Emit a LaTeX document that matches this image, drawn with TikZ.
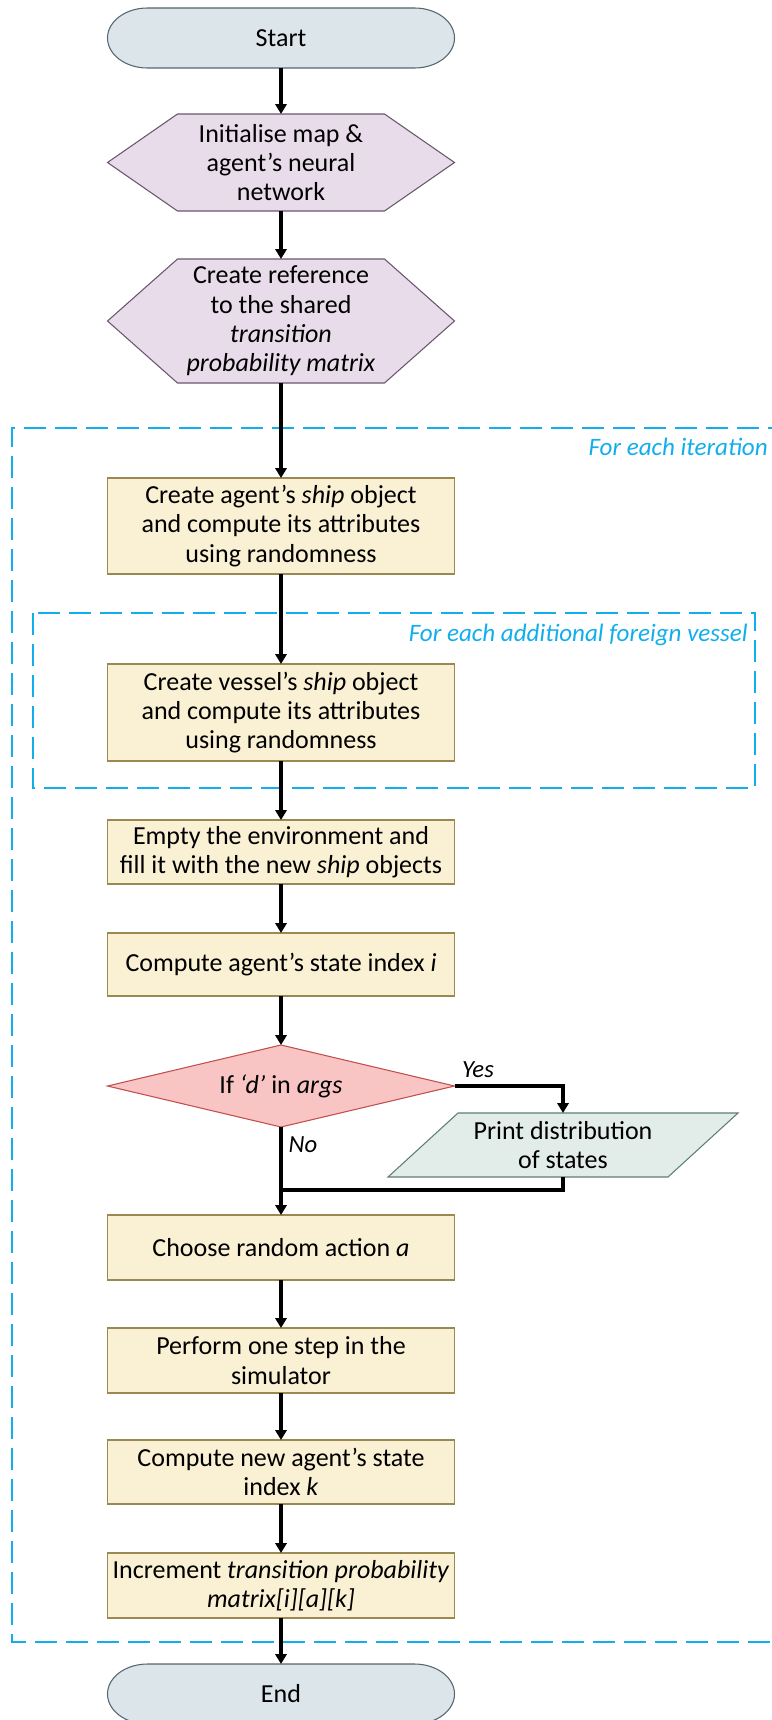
\documentclass[tikz,border=0pt]{standalone}
\usepackage{xcolor}
\usepackage{fontspec}
\setmainfont{Carlito}
\usepackage{tikz}
\usetikzlibrary{positioning,arrows.meta,shapes.geometric}

\definecolor{termfill}{HTML}{DCE5EA}
\definecolor{termline}{HTML}{56656F}
\definecolor{prepfill}{HTML}{E9DCEA}
\definecolor{prepline}{HTML}{6B566F}
\definecolor{procfill}{HTML}{FAF0D4}
\definecolor{procline}{HTML}{9A8A52}
\definecolor{decfill}{HTML}{F8C5C4}
\definecolor{decline}{HTML}{C0504D}
\definecolor{iofill}{HTML}{E2EDE9}
\definecolor{ioline}{HTML}{5E7E73}
\definecolor{loopblue}{HTML}{12AEEB}

\pgfdeclarelayer{bg}
\pgfsetlayers{bg,main}

\tikzset{
    base/.style={outer sep=0pt, inner sep=0pt, align=center, minimum width=260.25pt,
        font=\fontsize{19.5}{22}\selectfont},
    termbox/.style={base, minimum height=45pt},
    prepbox/.style={base},
    procbox/.style={base, draw=procline, fill=procfill, line width=0.8pt},
    decbox/.style={base, diamond, aspect=4.2, minimum height=61.5pt, draw=decline, fill=decfill, line width=0.8pt},
    iobox/.style={base, minimum width=262.5pt, minimum height=48pt},
    termshape/.style={draw=termline, fill=termfill, line width=0.8pt},
    prepshape/.style={draw=prepline, fill=prepfill, line width=0.8pt},
    ioshape/.style={draw=ioline, fill=iofill, line width=0.8pt},
    flow/.style={line width=2.6pt, -{Triangle[width=8.5pt,length=7.5pt]}},
    link/.style={line width=2.6pt},
    loopbox/.style={draw=loopblue, line width=2pt, dash pattern=on 16.5pt off 6.75pt},
    looplabel/.style={text=loopblue, anchor=east, inner sep=0pt, font=\itshape\fontsize{18.8}{22}\selectfont},
    branch/.style={inner sep=0pt, font=\itshape\fontsize{18.5}{22}\selectfont}
}

\begin{document}
\begin{tikzpicture}[x=0.75pt,y=-0.75pt]
    \useasboundingbox (0,0) rectangle (771,1720);

    \draw[loopbox] (790,428) -- (12,428) -- (12,1642) -- (790,1642);
    \draw[loopbox] (33,613) rectangle (755,788);
    \node[looplabel] (iterlabel) at (768,447) {For each iteration};
    \node[looplabel] (vessellabel) at (748,635) {For each additional foreign vessel};

    \node[termbox] (start) at (281,38) {Start};
    \node[prepbox, minimum height=72.75pt] (init) at (281,162.5) {Initialise map \&\\agent’s neural\\network};
    \node[prepbox, minimum height=93pt] (ref) at (281,321) {Create reference\\to the shared\\\textit{transition}\\\textit{probability matrix}};
    \node[procbox, minimum height=72pt] (agentship) at (281,526) {Create agent’s \textit{ship} object\\and compute its attributes\\using randomness};
    \node[procbox, minimum height=72.75pt] (vesselship) at (281,712.5) {Create vessel’s \textit{ship} object\\and compute its attributes\\using randomness};
    \node[procbox, minimum height=48pt] (envfill) at (281,852) {Empty the environment and\\fill it with the new \textit{ship} objects};
    \node[procbox, minimum height=47.25pt] (stateidx) at (281,964.5) {Compute agent’s state index \textit{i}};
    \node[decbox] (decide) at (281,1086) {If \textit{‘d’} in \textit{args}};
    \node[iobox] (printdist) at (563,1145) {Print distribution\\of states};
    \node[procbox, minimum height=48.75pt] (action) at (281,1247.5) {Choose random action \textit{a}};
    \node[procbox, minimum height=48.75pt] (simstep) at (281,1360.5) {Perform one step in the\\simulator};
    \node[procbox, minimum height=48pt] (newstate) at (281,1472) {Compute new agent’s state\\index \textit{k}};
    \node[procbox, minimum height=48.75pt] (incr) at (281,1585.5) {Increment \textit{transition probability}\\\textit{matrix[i][a][k]}};
    \node[termbox] (stop) at (281,1694) {End};
    \coordinate (merge) at (281,1190);

    \begin{pgfonlayer}{bg}
        \foreach \n in {start,stop}
            \draw[termshape] ([xshift=30pt]\n.north west) -- ([xshift=-30pt]\n.north east)
                arc[start angle=90, end angle=-90, x radius=30pt, y radius=22.5pt]
                -- ([xshift=30pt]\n.south west)
                arc[start angle=270, end angle=90, x radius=30pt, y radius=22.5pt] -- cycle;
        \foreach \n in {init,ref}
            \draw[prepshape] (\n.west) -- ([xshift=52.5pt]\n.north west) -- ([xshift=-52.5pt]\n.north east)
                -- (\n.east) -- ([xshift=-52.5pt]\n.south east) -- ([xshift=52.5pt]\n.south west) -- cycle;
        \draw[ioshape] ([xshift=52.5pt]printdist.north west) -- (printdist.north east)
            -- ([xshift=-52.5pt]printdist.south east) -- (printdist.south west) -- cycle;
    \end{pgfonlayer}

    \draw[flow] (start) -- (init);
    \draw[flow] (init) -- (ref);
    \draw[flow] (ref) -- (agentship);
    \draw[flow] (agentship) -- (vesselship);
    \draw[flow] (vesselship) -- (envfill);
    \draw[flow] (envfill) -- (stateidx);
    \draw[flow] (stateidx) -- (decide);
    \draw[flow] (decide.east) -| (printdist.north);
    \draw[link] (printdist.south) |- (merge);
    \draw[flow] (decide.south) -- (action);
    \draw[flow] (action) -- (simstep);
    \draw[flow] (simstep) -- (newstate);
    \draw[flow] (newstate) -- (incr);
    \draw[flow] (incr) -- (stop);

    \node[branch] (yes) at (478,1070) {Yes};
    \node[branch] (no) at (303,1145) {No};
\end{tikzpicture}
\end{document}
